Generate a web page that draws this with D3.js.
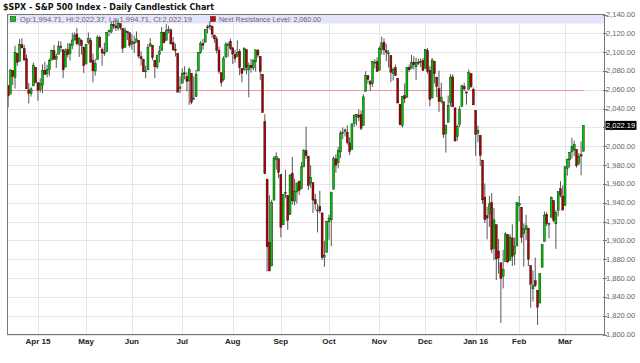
<!DOCTYPE html>
<html>
<head>
<meta charset="utf-8">
<script src="https://cdn.jsdelivr.net/npm/d3@7"></script>
<style>
    body { margin: 0; background: #fff; }
    svg { display: block; }
    text { font-family: "Liberation Sans", Arial, sans-serif; }
</style>
</head>
<body>
<script>
// trading days, $SPX daily, Mar 13 2015 -> Mar 11 2016
var dates = [
    "2015-03-13","2015-03-16","2015-03-17","2015-03-18","2015-03-19","2015-03-20","2015-03-23","2015-03-24","2015-03-25","2015-03-26","2015-03-27","2015-03-30","2015-03-31",
    "2015-04-01","2015-04-02","2015-04-06","2015-04-07","2015-04-08","2015-04-09","2015-04-10","2015-04-13","2015-04-14","2015-04-15","2015-04-16","2015-04-17","2015-04-20","2015-04-21","2015-04-22","2015-04-23","2015-04-24","2015-04-27","2015-04-28","2015-04-29","2015-04-30",
    "2015-05-01","2015-05-04","2015-05-05","2015-05-06","2015-05-07","2015-05-08","2015-05-11","2015-05-12","2015-05-13","2015-05-14","2015-05-15","2015-05-18","2015-05-19","2015-05-20","2015-05-21","2015-05-22","2015-05-26","2015-05-27","2015-05-28","2015-05-29",
    "2015-06-01","2015-06-02","2015-06-03","2015-06-04","2015-06-05","2015-06-08","2015-06-09","2015-06-10","2015-06-11","2015-06-12","2015-06-15","2015-06-16","2015-06-17","2015-06-18","2015-06-19","2015-06-22","2015-06-23","2015-06-24","2015-06-25","2015-06-26","2015-06-29","2015-06-30",
    "2015-07-01","2015-07-02","2015-07-06","2015-07-07","2015-07-08","2015-07-09","2015-07-10","2015-07-13","2015-07-14","2015-07-15","2015-07-16","2015-07-17","2015-07-20","2015-07-21","2015-07-22","2015-07-23","2015-07-24","2015-07-27","2015-07-28","2015-07-29","2015-07-30","2015-07-31",
    "2015-08-03","2015-08-04","2015-08-05","2015-08-06","2015-08-07","2015-08-10","2015-08-11","2015-08-12","2015-08-13","2015-08-14","2015-08-17","2015-08-18","2015-08-19","2015-08-20","2015-08-21","2015-08-24","2015-08-25","2015-08-26","2015-08-27","2015-08-28","2015-08-31",
    "2015-09-01","2015-09-02","2015-09-03","2015-09-04","2015-09-08","2015-09-09","2015-09-10","2015-09-11","2015-09-14","2015-09-15","2015-09-16","2015-09-17","2015-09-18","2015-09-21","2015-09-22","2015-09-23","2015-09-24","2015-09-25","2015-09-28","2015-09-29","2015-09-30",
    "2015-10-01","2015-10-02","2015-10-05","2015-10-06","2015-10-07","2015-10-08","2015-10-09","2015-10-12","2015-10-13","2015-10-14","2015-10-15","2015-10-16","2015-10-19","2015-10-20","2015-10-21","2015-10-22","2015-10-23","2015-10-26","2015-10-27","2015-10-28","2015-10-29","2015-10-30",
    "2015-11-02","2015-11-03","2015-11-04","2015-11-05","2015-11-06","2015-11-09","2015-11-10","2015-11-11","2015-11-12","2015-11-13","2015-11-16","2015-11-17","2015-11-18","2015-11-19","2015-11-20","2015-11-23","2015-11-24","2015-11-25","2015-11-27","2015-11-30",
    "2015-12-01","2015-12-02","2015-12-03","2015-12-04","2015-12-07","2015-12-08","2015-12-09","2015-12-10","2015-12-11","2015-12-14","2015-12-15","2015-12-16","2015-12-17","2015-12-18","2015-12-21","2015-12-22","2015-12-23","2015-12-24","2015-12-28","2015-12-29","2015-12-30","2015-12-31",
    "2016-01-04","2016-01-05","2016-01-06","2016-01-07","2016-01-08","2016-01-11","2016-01-12","2016-01-13","2016-01-14","2016-01-15","2016-01-19","2016-01-20","2016-01-21","2016-01-22","2016-01-25","2016-01-26","2016-01-27","2016-01-28","2016-01-29",
    "2016-02-01","2016-02-02","2016-02-03","2016-02-04","2016-02-05","2016-02-08","2016-02-09","2016-02-10","2016-02-11","2016-02-12","2016-02-16","2016-02-17","2016-02-18","2016-02-19","2016-02-22","2016-02-23","2016-02-24","2016-02-25","2016-02-26","2016-02-29",
    "2016-03-01","2016-03-02","2016-03-03","2016-03-04","2016-03-07","2016-03-08","2016-03-09","2016-03-10","2016-03-11"
];

var opens = [
    2064.56,2055.35,2080.59,2072.84,2098.69,2090.32,2107.99,2103.94,2093.10,2059.94,2055.78,2064.11,2084.05,
    2067.63,2060.03,2064.87,2080.79,2076.94,2081.29,2091.51,2102.03,2092.28,2097.82,2105.96,2102.58,2084.11,2102.82,2098.27,2107.21,2112.80,2119.29,2108.35,2112.49,2105.52,
    2087.38,2110.23,2112.63,2091.26,2079.96,2092.13,2115.56,2102.87,2099.62,2100.43,2122.07,2121.30,2129.45,2127.79,2125.55,2130.36,2125.34,2105.13,2122.27,2120.66,
    2108.64,2110.41,2110.64,2112.35,2095.09,2092.34,2079.07,2081.12,2106.24,2107.43,2091.34,2084.26,2097.40,2101.58,2121.06,2112.50,2123.16,2123.65,2109.96,2102.62,2098.63,2061.19,
    2067.00,2078.03,2073.95,2069.52,2077.66,2049.73,2052.74,2080.03,2099.72,2109.21,2110.55,2126.80,2126.85,2127.55,2118.21,2114.16,2102.24,2078.19,2070.75,2094.70,2106.78,2111.60,
    2104.49,2097.68,2095.27,2100.75,2082.61,2080.98,2102.66,2081.10,2086.19,2083.15,2089.70,2101.99,2095.69,2076.61,2026.00,1965.15,1898.08,1872.75,1942.77,1986.06,1986.73,
    1970.09,1916.52,1950.79,1947.76,1927.30,1971.45,1941.59,1951.45,1963.06,1955.10,1978.02,1995.33,1989.66,1960.84,1961.39,1943.24,1932.24,1935.93,1929.18,1881.90,1887.14,
    1919.65,1921.77,1954.33,1986.63,1982.34,1994.01,2013.73,2015.65,2015.00,2003.66,1996.47,2024.37,2031.73,2033.13,2033.47,2021.88,2058.19,2075.08,2068.75,2066.48,2088.35,2090.00,
    2080.76,2102.63,2110.60,2101.68,2098.60,2096.56,2077.19,2083.41,2072.29,2044.64,2022.08,2053.67,2051.99,2083.70,2082.82,2089.41,2084.42,2089.30,2088.82,2090.95,
    2082.93,2101.71,2080.71,2051.24,2090.42,2073.39,2061.17,2047.93,2047.27,2013.37,2025.55,2046.50,2073.76,2040.81,2010.27,2023.15,2042.20,2063.52,2057.77,2060.54,2077.34,2060.59,
    2038.20,2013.78,2011.71,1985.32,1945.97,1926.12,1927.83,1940.34,1891.68,1916.68,1888.66,1876.18,1861.46,1877.40,1906.28,1878.79,1902.52,1885.22,1894.00,
    1936.94,1935.26,1907.07,1911.67,1913.07,1873.25,1848.46,1857.10,1847.00,1833.40,1871.44,1898.80,1927.57,1916.74,1924.44,1942.38,1917.56,1931.87,1954.95,1947.13,
    1937.09,1976.60,1985.60,1994.01,1996.11,1996.88,1981.44,1990.97,1994.71
];

var highs = [
    2064.56,2081.41,2080.59,2106.85,2098.69,2113.92,2114.86,2107.63,2097.43,2067.15,2062.83,2088.97,2084.05,
    2067.63,2072.17,2086.99,2089.81,2086.69,2093.31,2102.61,2107.65,2098.62,2111.91,2111.30,2102.58,2103.94,2109.64,2109.98,2120.49,2120.92,2125.92,2116.04,2113.65,2105.52,
    2108.41,2120.95,2115.24,2098.42,2092.90,2117.66,2117.69,2105.06,2110.19,2121.45,2123.89,2131.78,2133.02,2134.72,2134.28,2130.36,2125.34,2126.22,2122.27,2120.66,
    2119.15,2117.59,2121.92,2112.89,2100.99,2093.01,2085.62,2108.50,2115.02,2107.43,2091.34,2097.40,2106.79,2126.65,2121.64,2129.87,2128.03,2125.10,2116.04,2108.92,2098.63,2074.28,
    2082.78,2085.06,2078.61,2083.74,2077.66,2074.28,2081.31,2099.88,2111.98,2114.14,2124.42,2128.91,2132.82,2128.49,2118.51,2116.87,2106.01,2078.19,2095.60,2110.60,2110.48,2114.24,
    2105.70,2102.51,2112.66,2103.32,2082.61,2105.35,2102.66,2089.06,2092.93,2092.45,2102.87,2103.47,2096.17,2076.61,2034.08,1965.15,1948.04,1943.09,1989.60,1993.48,1986.73,
    1970.09,1948.91,1975.01,1947.76,1970.42,1988.63,1965.29,1961.05,1963.06,1983.19,1997.26,2020.86,1989.66,1979.64,1961.39,1949.52,1938.88,1952.89,1929.18,1899.48,1920.53,
    1927.21,1951.36,1989.17,1991.62,1999.31,2016.50,2020.13,2018.66,2022.34,2009.56,2024.15,2033.54,2034.45,2039.12,2037.97,2055.20,2079.74,2075.14,2070.37,2090.35,2092.52,2094.32,
    2106.20,2116.48,2114.59,2108.78,2101.91,2096.56,2083.67,2086.94,2072.29,2044.64,2053.22,2066.69,2083.92,2086.74,2097.06,2095.61,2094.12,2093.00,2093.29,2093.81,
    2103.37,2104.27,2085.00,2093.84,2090.42,2073.85,2080.33,2067.65,2047.27,2022.92,2053.87,2076.72,2076.37,2040.81,2022.90,2042.74,2064.73,2067.36,2057.77,2081.56,2077.34,2062.54,
    2038.20,2021.94,2011.71,1985.32,1960.40,1935.65,1947.38,1950.33,1934.47,1916.68,1901.44,1876.18,1889.85,1908.85,1906.28,1906.73,1916.99,1902.96,1940.24,
    1947.20,1935.26,1918.01,1927.35,1913.07,1873.25,1868.25,1881.60,1847.00,1864.78,1895.77,1930.68,1930.00,1918.78,1946.70,1942.38,1932.08,1951.83,1962.96,1958.27,
    1978.35,1986.51,1993.69,2009.13,2006.12,1996.88,1992.69,2005.08,2022.37
];

var lows = [
    2041.17,2055.35,2065.08,2061.23,2085.56,2090.32,2104.42,2091.50,2061.05,2045.50,2052.96,2064.11,2067.04,
    2048.38,2057.32,2056.52,2076.10,2073.30,2074.29,2091.51,2092.33,2083.24,2097.82,2100.02,2072.37,2084.11,2094.38,2091.05,2103.19,2112.80,2107.04,2094.89,2097.41,2077.59,
    2087.38,2108.29,2088.46,2067.93,2074.99,2092.13,2104.58,2085.57,2096.04,2100.43,2116.81,2120.01,2124.50,2122.59,2122.95,2123.69,2099.18,2105.13,2112.86,2104.89,
    2102.54,2099.14,2110.64,2093.23,2085.67,2079.11,2072.14,2081.12,2106.24,2091.33,2072.49,2082.10,2088.86,2101.58,2109.45,2112.50,2119.89,2108.58,2101.78,2095.38,2056.64,2056.32,
    2067.00,2071.02,2058.40,2044.02,2044.66,2049.73,2052.74,2080.03,2098.18,2102.49,2110.55,2119.88,2123.66,2115.40,2110.00,2098.63,2077.09,2063.52,2069.09,2094.08,2094.97,2102.07,
    2087.31,2088.60,2095.27,2075.53,2067.91,2080.98,2076.49,2052.09,2078.26,2080.61,2079.30,2094.14,2070.53,2035.73,1970.89,1867.01,1867.08,1872.75,1942.77,1975.19,1965.98,
    1903.07,1916.52,1944.72,1911.21,1927.30,1937.88,1937.19,1939.19,1948.27,1954.30,1977.93,1986.73,1953.45,1955.80,1929.22,1932.57,1908.46,1928.75,1879.21,1871.91,1887.14,
    1900.70,1893.70,1954.33,1971.99,1976.44,1987.53,2007.61,2010.55,2001.78,1990.73,1996.47,2020.46,2022.31,2026.61,2017.22,2021.88,2058.19,2066.53,2058.84,2063.11,2082.63,2079.34,
    2080.76,2097.51,2096.98,2090.41,2083.74,2068.24,2069.91,2074.85,2045.66,2022.02,2019.94,2045.90,2051.99,2078.76,2082.82,2081.39,2070.29,2086.30,2084.13,2080.41,
    2082.93,2077.11,2042.35,2051.24,2066.78,2052.32,2036.53,2045.67,2008.80,1993.26,2025.55,2042.43,2041.66,2005.33,2005.93,2020.49,2042.20,2058.73,2044.20,2060.54,2061.97,2043.62,
    1989.68,2004.17,1979.05,1938.83,1918.46,1901.10,1914.35,1886.41,1878.93,1857.83,1864.60,1812.29,1848.98,1877.40,1875.97,1878.79,1872.70,1873.65,1894.00,
    1920.30,1897.29,1872.23,1900.52,1872.65,1828.46,1834.94,1850.32,1810.10,1833.40,1871.44,1898.80,1915.09,1902.17,1924.44,1919.44,1891.00,1925.41,1945.78,1931.81,
    1937.09,1968.80,1977.37,1986.77,1989.38,1977.43,1979.84,1969.25,1994.71
];

var closes = [
    2053.40,2081.19,2074.28,2099.50,2089.27,2108.10,2104.42,2091.50,2061.05,2056.15,2061.02,2086.24,2067.89,
    2059.69,2066.96,2080.62,2076.33,2081.90,2091.18,2102.06,2092.43,2095.84,2106.63,2104.99,2081.18,2100.40,2097.29,2107.96,2112.93,2117.69,2108.92,2114.76,2106.85,2085.51,
    2108.29,2114.49,2089.46,2080.15,2088.00,2116.10,2105.33,2099.12,2098.48,2121.10,2122.73,2129.20,2127.83,2125.85,2130.82,2126.06,2104.20,2123.48,2120.79,2107.39,
    2111.73,2109.60,2114.07,2095.84,2092.83,2079.28,2080.15,2105.20,2108.86,2094.11,2084.43,2096.29,2100.44,2121.24,2109.99,2122.85,2124.20,2108.58,2102.31,2101.49,2057.64,2063.11,
    2077.42,2076.78,2068.76,2081.34,2046.68,2051.31,2076.62,2099.60,2108.95,2107.40,2124.29,2126.64,2128.28,2119.21,2114.15,2102.15,2079.65,2067.64,2093.25,2108.57,2108.63,2103.84,
    2098.04,2093.32,2099.84,2083.56,2077.57,2104.18,2084.07,2086.05,2083.39,2091.54,2102.44,2096.92,2079.61,2035.73,1970.89,1893.21,1867.61,1940.51,1987.66,1988.87,1972.18,
    1913.85,1948.86,1951.13,1921.22,1969.41,1942.04,1952.29,1961.05,1953.03,1978.09,1995.31,1990.20,1958.03,1966.97,1942.74,1938.76,1932.24,1931.34,1881.77,1884.09,1920.03,
    1923.82,1951.36,1987.05,1979.92,1995.83,2013.43,2014.89,2017.46,2003.69,1994.24,2023.86,2033.11,2033.66,2030.77,2018.94,2052.51,2075.15,2071.18,2065.89,2090.35,2089.41,2079.36,
    2104.05,2109.79,2102.31,2099.93,2099.20,2078.58,2081.72,2075.00,2045.97,2023.04,2053.19,2050.44,2083.58,2081.24,2089.17,2086.59,2089.14,2088.87,2090.11,2080.41,
    2102.63,2079.51,2049.62,2091.69,2077.07,2063.59,2047.62,2052.23,2012.37,2021.94,2043.41,2073.07,2041.89,2005.55,2021.15,2038.97,2064.29,2060.99,2056.50,2078.36,2063.36,2043.94,
    2012.66,2016.71,1990.26,1943.09,1922.03,1923.67,1938.68,1890.28,1921.84,1880.33,1881.33,1859.33,1868.99,1906.90,1877.08,1903.63,1882.95,1893.36,1940.24,
    1939.38,1903.03,1912.53,1915.45,1880.05,1853.44,1852.21,1851.86,1829.08,1864.78,1895.58,1926.82,1917.83,1917.78,1945.50,1921.27,1929.80,1951.70,1948.05,1932.23,
    1978.35,1986.45,1993.40,1999.99,2001.76,1979.26,1989.26,1989.57,2022.19
];

var monthNames = ["Jan", "Feb", "Mar", "Apr", "May", "Jun", "Jul", "Aug", "Sep", "Oct", "Nov", "Dec"];
var yTicks = [1800, 1820, 1840, 1860, 1880, 1900, 1920, 1940, 1960, 1980, 2000, 2020, 2040, 2060, 2080, 2100, 2120, 2140];
var resistance = 2060;

var title = "$SPX - S&P 500 Index - Daily Candlestick Chart";

var width = 640, height = 363;
var plot = {left: 7, right: 604, top: 14, bottom: 334};

var svg = d3.select("body").append("svg")
    .attr("width", width)
    .attr("height", height);

var data = dates.map(function (d, i) {
    return {i: i, date: d, o: opens[i], h: highs[i], l: lows[i], c: closes[i]};
});

var x = d3.scaleLinear()
    .domain([-0.5, 260])
    .range([plot.left, plot.right]);

var y = d3.scaleLinear()
    .domain([1800, 2140])
    .range([plot.bottom + 0.5, plot.top + 0.5]);

// first trading day of each month -> grid + label
var monthStarts = data.filter(function (d, i) {
    return i > 0 && d.date.slice(5, 7) !== dates[i - 1].slice(5, 7);
});

var g = svg.append("g");

// horizontal grid
g.selectAll(".hgrid")
    .data(yTicks)
    .enter().append("line")
    .attr("class", "hgrid")
    .attr("x1", plot.left)
    .attr("x2", plot.right)
    .attr("y1", function (d) { return Math.round(y(d)) + 0.5; })
    .attr("y2", function (d) { return Math.round(y(d)) + 0.5; })
    .style("stroke", "#e6e6e6")
    .style("stroke-width", 1);

// vertical grid
g.selectAll(".vgrid")
    .data(monthStarts)
    .enter().append("line")
    .attr("class", "vgrid")
    .attr("x1", function (d) { return Math.round(x(d.i)) + 0.5; })
    .attr("x2", function (d) { return Math.round(x(d.i)) + 0.5; })
    .attr("y1", plot.top)
    .attr("y2", plot.bottom)
    .style("stroke", "#e6e6e6")
    .style("stroke-width", 1);

// legend band
g.append("rect")
    .attr("x", plot.left)
    .attr("y", plot.top)
    .attr("width", plot.right - plot.left)
    .attr("height", 9.5)
    .style("fill", "#e4e4fb");

// resistance line
g.append("line")
    .attr("x1", plot.left)
    .attr("x2", x(data.length - 1) + 1)
    .attr("y1", Math.round(y(resistance)) + 0.5)
    .attr("y2", Math.round(y(resistance)) + 0.5)
    .style("stroke", "#f29a9a")
    .style("stroke-width", 1);

// wicks
g.selectAll(".wick")
    .data(data)
    .enter().append("line")
    .attr("class", "wick")
    .attr("x1", function (d) { return x(d.i); })
    .attr("x2", function (d) { return x(d.i); })
    .attr("y1", function (d) { return y(d.h); })
    .attr("y2", function (d) { return y(d.l); })
    .style("stroke", "#444")
    .style("stroke-width", 0.9);

// bodies
var bw = 2.0;
g.selectAll(".body")
    .data(data)
    .enter().append("rect")
    .attr("class", "body")
    .attr("x", function (d) { return x(d.i) - bw / 2; })
    .attr("y", function (d) { return y(Math.max(d.o, d.c)); })
    .attr("width", bw)
    .attr("height", function (d) { return Math.max(1, Math.abs(y(d.o) - y(d.c))); })
    .style("fill", function (d) { return d.c >= d.o ? "#00c400" : "#b00000"; })
    .style("stroke", "#111")
    .style("stroke-width", 0.4);

// plot frame
g.append("rect")
    .attr("x", plot.left + 0.5)
    .attr("y", plot.top + 0.5)
    .attr("width", plot.right - plot.left)
    .attr("height", plot.bottom - plot.top)
    .style("fill", "none")
    .style("stroke", "#777")
    .style("stroke-width", 1);

// y axis labels (right)
var yAxis = svg.append("g").attr("class", "yaxis");
yAxis.selectAll("line")
    .data(yTicks)
    .enter().append("line")
    .attr("x1", plot.right - 1)
    .attr("x2", plot.right + 3)
    .attr("y1", function (d) { return Math.round(y(d)) + 0.5; })
    .attr("y2", function (d) { return Math.round(y(d)) + 0.5; })
    .style("stroke", "#777");

var fmt = d3.format(",.2f");
yAxis.selectAll("text")
    .data(yTicks)
    .enter().append("text")
    .attr("x", plot.right + 2)
    .attr("y", function (d) { return y(d) + 2.5; })
    .style("font-size", "7.5px")
    .style("fill", "#666")
    .text(function (d) { return fmt(d); });

// last close tag
var last = data[data.length - 1];
svg.append("rect")
    .attr("x", plot.right + 1.5)
    .attr("y", y(last.c) - 4.5)
    .attr("width", 31)
    .attr("height", 9)
    .style("fill", "#000");
svg.append("text")
    .attr("x", plot.right + 2)
    .attr("y", y(last.c) + 2.5)
    .style("font-size", "7.5px")
    .style("fill", "#fff")
    .text(fmt(last.c));

// x axis month labels
svg.append("g").selectAll("text")
    .data(monthStarts)
    .enter().append("text")
    .attr("x", function (d) { return x(d.i); })
    .attr("y", plot.bottom + 10)
    .attr("text-anchor", "middle")
    .style("font-size", "8px")
    .style("font-weight", "bold")
    .style("fill", "#222")
    .text(function (d) {
        var m = +d.date.slice(5, 7) - 1;
        var name = monthNames[m];
        if (m === 0 || d.i === monthStarts[0].i) name += " " + d.date.slice(2, 4);
        return name;
    });

// title
svg.append("text")
    .attr("x", 3)
    .attr("y", 10)
    .attr("textLength", 211)
    .attr("lengthAdjust", "spacingAndGlyphs")
    .style("font-family", "'DejaVu Sans', Verdana, sans-serif")
    .style("font-size", "8.5px")
    .style("font-weight", "bold")
    .style("fill", "#111")
    .text(title);

// legend
var lg = svg.append("g");
lg.append("rect")
    .attr("x", 10.5).attr("y", 16.5).attr("width", 5).attr("height", 5)
    .style("fill", "#00d000").style("stroke", "#333").style("stroke-width", 0.6);
lg.append("text")
    .attr("x", 20).attr("y", 21.5)
    .attr("textLength", 172)
    .attr("lengthAdjust", "spacingAndGlyphs")
    .style("font-size", "7.5px").style("fill", "#666")
    .text("Op:" + fmt(last.o) + ", Hi:" + fmt(last.h) + ", Lo:" + fmt(last.l) + ", Cl:" + fmt(last.c));
lg.append("rect")
    .attr("x", 210.5).attr("y", 16.5).attr("width", 5).attr("height", 5)
    .style("fill", "#d00000").style("stroke", "#333").style("stroke-width", 0.6);
lg.append("text")
    .attr("x", 219).attr("y", 21.5)
    .attr("textLength", 102)
    .attr("lengthAdjust", "spacingAndGlyphs")
    .style("font-size", "7.5px").style("fill", "#666")
    .text("Next Resistance Level: " + fmt(resistance));
</script>
</body>
</html>
